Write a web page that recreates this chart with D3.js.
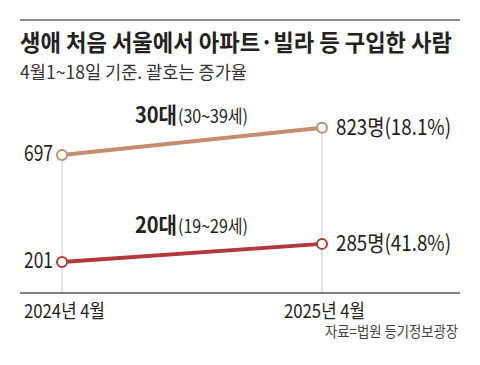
<!DOCTYPE html>
<html>
<head>
<meta charset="utf-8">
<script src="https://cdn.jsdelivr.net/npm/d3@7"></script>
<style>
  body { margin: 0; background: #fff; }
  text { font-family: "Noto Sans CJK KR", sans-serif; }
</style>
</head>
<body>
<div id="chart"></div>
<script>
// data
const periods = [ '2024년 4월', '2025년 4월' ];
const groups = [ '30대', '20대' ];
const groupRanges = [ '(30~39세)', '(19~29세)' ];
const values30s = [ 697, 823 ];
const values20s = [ 201, 285 ];
const growth = [ '18.1%', '41.8%' ];
const colors = [ '#c48e6e', '#b3383b' ];

const width = 480, height = 365;

const svg = d3.select( '#chart' ).append( 'svg' )
    .attr( 'width', width )
    .attr( 'height', height );

// squeeze text to a given width (narrow newspaper face)
const fit = ( sel, w ) => sel.attr( 'textLength', w ).attr( 'lengthAdjust', 'spacingAndGlyphs' );

// header
svg.append( 'line' )
    .attr( 'x1', 20 ).attr( 'x2', 460 )
    .attr( 'y1', 20 ).attr( 'y2', 20 )
    .attr( 'stroke', '#8a8a8a' ).attr( 'stroke-width', 2 );

fit( svg.append( 'text' )
    .attr( 'x', 20 ).attr( 'y', 51 )
    .attr( 'font-size', 23 ).attr( 'font-weight', 'bold' )
    .attr( 'fill', '#222' )
    .text( '생애 처음 서울에서 아파트·빌라 등 구입한 사람' ), 432 );

fit( svg.append( 'text' )
    .attr( 'x', 20 ).attr( 'y', 79 )
    .attr( 'font-size', 18 ).attr( 'fill', '#333' )
    .text( '4월1~18일 기준. 괄호는 증가율' ), 227 );

// scales
const x = d3.scalePoint()
    .domain( periods )
    .range( [ 62, 322 ] );

const y = d3.scaleLinear()
    .domain( [ 201, 697 ] )
    .range( [ 262, 155 ] );

// grid lines at each period, from the top point down to the baseline
svg.selectAll( '.grid' )
    .data( periods )
    .enter()
    .append( 'line' )
    .attr( 'class', 'grid' )
    .attr( 'x1', d => x( d ) ).attr( 'x2', d => x( d ) )
    .attr( 'y1', ( d, j ) => y( Math.max( values30s[ j ], values20s[ j ] ) ) )
    .attr( 'y2', 293 )
    .attr( 'stroke', '#d4d4d4' ).attr( 'stroke-width', 1.2 );

// baseline
svg.append( 'line' )
    .attr( 'x1', 20 ).attr( 'x2', 460 )
    .attr( 'y1', 293 ).attr( 'y2', 293 )
    .attr( 'stroke', '#555' ).attr( 'stroke-width', 1.5 );

// x labels
svg.selectAll( '.xlabel' )
    .data( periods )
    .enter()
    .append( 'text' )
    .attr( 'class', 'xlabel' )
    .attr( 'x', d => x( d ) - 38 )
    .attr( 'y', 318 )
    .attr( 'font-size', 19 ).attr( 'fill', '#222' )
    .attr( 'textLength', 81 ).attr( 'lengthAdjust', 'spacingAndGlyphs' )
    .text( d => d );

const series = [ values30s, values20s ];
const labelX = 135;

series.forEach( ( vals, i ) => {
    const pts = vals.map( ( v, j ) => [ x( periods[ j ] ), y( v ) ] );

    svg.append( 'path' )
        .attr( 'd', d3.line()( pts ) )
        .attr( 'fill', 'none' )
        .attr( 'stroke', colors[ i ] )
        .attr( 'stroke-width', 4 );

    svg.selectAll( '.pt' + i )
        .data( pts )
        .enter()
        .append( 'circle' )
        .attr( 'cx', d => d[ 0 ] ).attr( 'cy', d => d[ 1 ] )
        .attr( 'r', 5 )
        .attr( 'fill', '#fff' )
        .attr( 'stroke', colors[ i ] )
        .attr( 'stroke-width', 2 );

    // start value
    fit( svg.append( 'text' )
        .attr( 'x', pts[ 0 ][ 0 ] - 9 ).attr( 'y', pts[ 0 ][ 1 ] + 6 )
        .attr( 'text-anchor', 'end' )
        .attr( 'font-size', 22 ).attr( 'fill', '#222' )
        .text( vals[ 0 ] ), 29 );

    // end value + growth
    fit( svg.append( 'text' )
        .attr( 'x', pts[ 1 ][ 0 ] + 14 ).attr( 'y', pts[ 1 ][ 1 ] + 7 )
        .attr( 'font-size', 22 ).attr( 'fill', '#222' )
        .text( `${vals[ 1 ]}명(${growth[ i ]})` ), 115 );

    // group label, sitting above the line
    const t = ( 156 - pts[ 0 ][ 0 ] ) / ( pts[ 1 ][ 0 ] - pts[ 0 ][ 0 ] );
    const ly = pts[ 0 ][ 1 ] + t * ( pts[ 1 ][ 1 ] - pts[ 0 ][ 1 ] ) - 22;

    fit( svg.append( 'text' )
        .attr( 'x', labelX ).attr( 'y', ly )
        .attr( 'font-size', 22 ).attr( 'font-weight', 'bold' )
        .attr( 'fill', '#222' )
        .text( groups[ i ] ), 42 );

    fit( svg.append( 'text' )
        .attr( 'x', labelX + 43 ).attr( 'y', ly )
        .attr( 'font-size', 18 ).attr( 'fill', '#222' )
        .text( groupRanges[ i ] ), 70 );
} );

fit( svg.append( 'text' )
    .attr( 'x', 458 ).attr( 'y', 337 )
    .attr( 'text-anchor', 'end' )
    .attr( 'font-size', 15 ).attr( 'fill', '#444' )
    .text( '자료=법원 등기정보광장' ), 133 );
</script>
</body>
</html>
